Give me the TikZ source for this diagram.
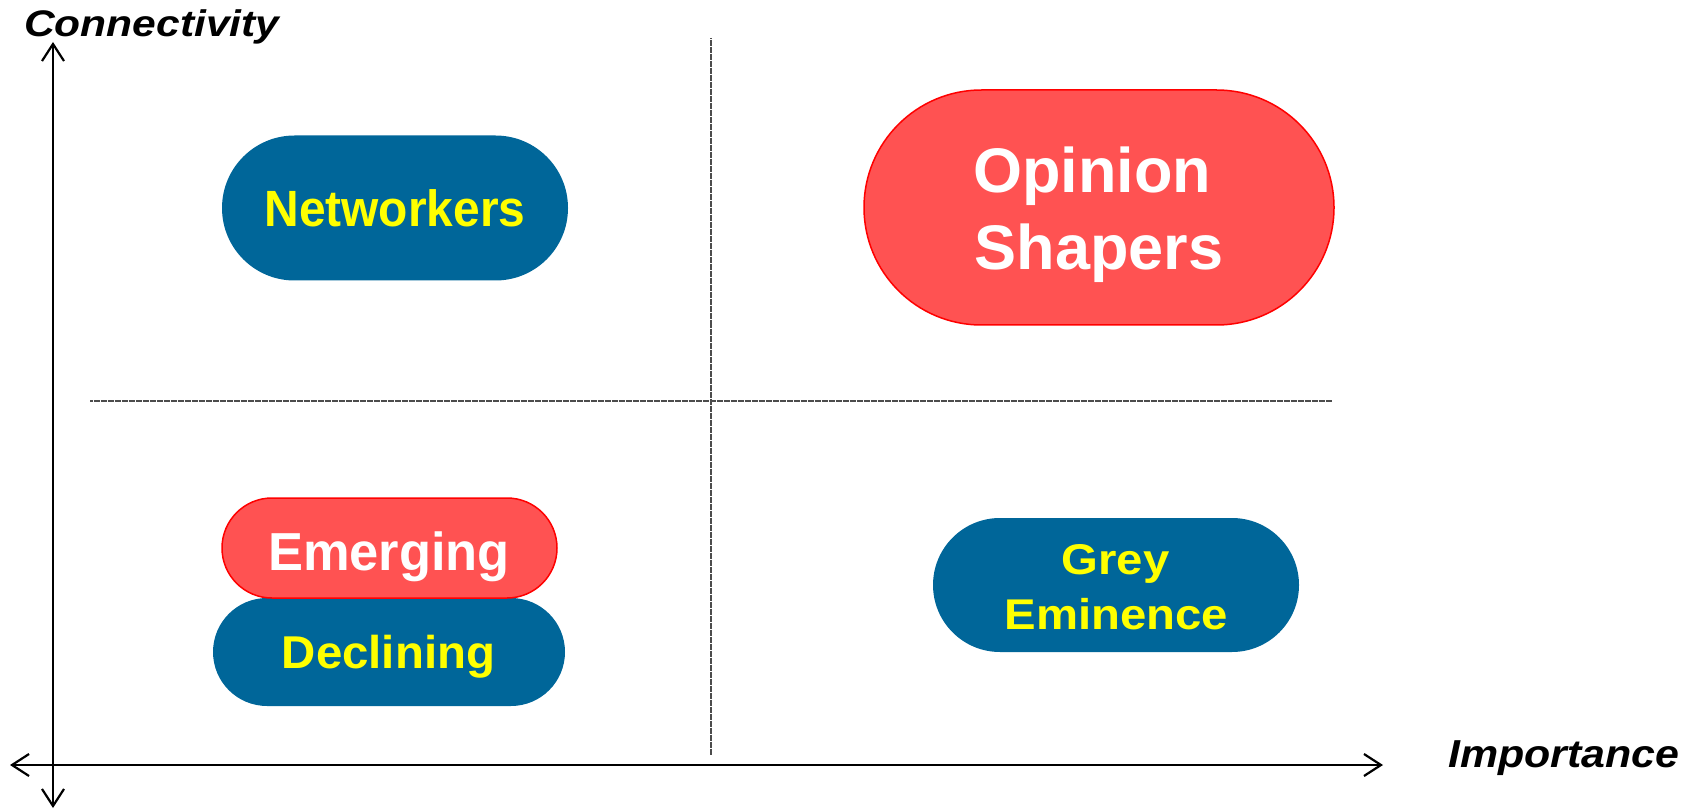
\documentclass[tikz,border=0pt]{standalone}
\usepackage{fontspec}
\setmainfont{Liberation Sans}
\usepackage{graphicx}
\usetikzlibrary{arrows.meta}

\definecolor{blobblue}{RGB}{0,102,153}
\definecolor{blobred}{RGB}{255,82,82}
\definecolor{rimred}{RGB}{255,0,0}
\definecolor{labelyellow}{RGB}{255,255,0}

% horizontal stretch of a label
\newcommand\wide[2]{\scalebox{#1}[1]{#2}}

\begin{document}
\begin{tikzpicture}[x=1pt,y=-1pt,
  bluebox/.style={fill=blobblue, draw=none, inner sep=0pt},
  redbox/.style={fill=blobred, draw=rimred, line width=1.5pt, inner sep=0pt},
  yellowtext/.style={text=labelyellow, inner sep=0pt, anchor=base},
  whitetext/.style={text=white, inner sep=0pt, anchor=base},
  axislabel/.style={text=black, inner sep=0pt, anchor=base west},
  axis/.style={line width=2.2pt, black,
    {Straight Barb[length=17pt,width=22pt]}-{Straight Barb[length=17pt,width=22pt]}},
  % checkered dotted rule: two staggered rows of dots
  divider/.style={line width=1.5pt, black!70, dash pattern=on 1.5pt off 2pt},
  dividershift/.style={divider, dash phase=1.75pt}]

\useasboundingbox (0,0) rectangle (1692,810);

% quadrant dividers
\coordinate (vtop) at (711,38);
\coordinate (vbot) at (711,755);
\coordinate (hleft) at (90,401);
\coordinate (hright) at (1332,401);
\draw[divider, xshift=-0.8pt] (vtop) -- (vbot);
\draw[dividershift, xshift=0.8pt] (vtop) -- (vbot);
\draw[divider, yshift=0.8pt] (hleft) -- (hright);
\draw[dividershift, yshift=-0.8pt] (hleft) -- (hright);

% axes
\coordinate (ytop) at (53,42);
\coordinate (ybot) at (53,808);
\coordinate (xleft) at (10,765);
\coordinate (xright) at (1383,765);
\draw[axis] (ybot) -- (ytop);
\draw[axis] (xleft) -- (xright);

\node[axislabel] (conn) at (24,37)
  {\fontsize{37}{37}\selectfont\bfseries\itshape\wide{1.15}{Connectivity}};
\node[axislabel] (imp) at (1448,767)
  {\fontsize{39}{39}\selectfont\bfseries\itshape\wide{1.1}{Importance}};

% quadrant groups
\node[bluebox, minimum width=346pt, minimum height=145pt, rounded corners=72.5pt]
  (net) at (395,208) {};
\node[yellowtext] (netT) at (395,227)
  {\fontsize{51}{51}\selectfont\bfseries\wide{0.94}{Networkers}};

\node[redbox, minimum width=470pt, minimum height=235pt, rounded corners=117.5pt]
  (op) at (1099,207.5) {};
\node[whitetext] (opT1) at (1092,193)
  {\fontsize{63}{63}\selectfont\bfseries Opinion};
\node[whitetext] (opT2) at (1099,270)
  {\fontsize{63}{63}\selectfont\bfseries Shapers};

\node[bluebox, minimum width=352pt, minimum height=108pt, rounded corners=54pt]
  (dec) at (389,652) {};
\node[yellowtext] (decT) at (388.5,668)
  {\fontsize{46}{46}\selectfont\bfseries\wide{1.03}{Declining}};

\node[redbox, minimum width=335pt, minimum height=100pt, rounded corners=50pt]
  (emg) at (389.5,548) {};
\node[whitetext] (emgT) at (389,570)
  {\fontsize{53.5}{53.5}\selectfont\bfseries\wide{0.98}{Emerging}};

\node[bluebox, minimum width=366pt, minimum height=134pt, rounded corners=67pt]
  (grey) at (1116,585) {};
\node[yellowtext] (greyT1) at (1115.5,574)
  {\fontsize{43}{43}\selectfont\bfseries\wide{1.1}{Grey}};
\node[yellowtext] (greyT2) at (1116.5,629)
  {\fontsize{43}{43}\selectfont\bfseries\wide{1.1}{Eminence}};

\end{tikzpicture}
\end{document}
